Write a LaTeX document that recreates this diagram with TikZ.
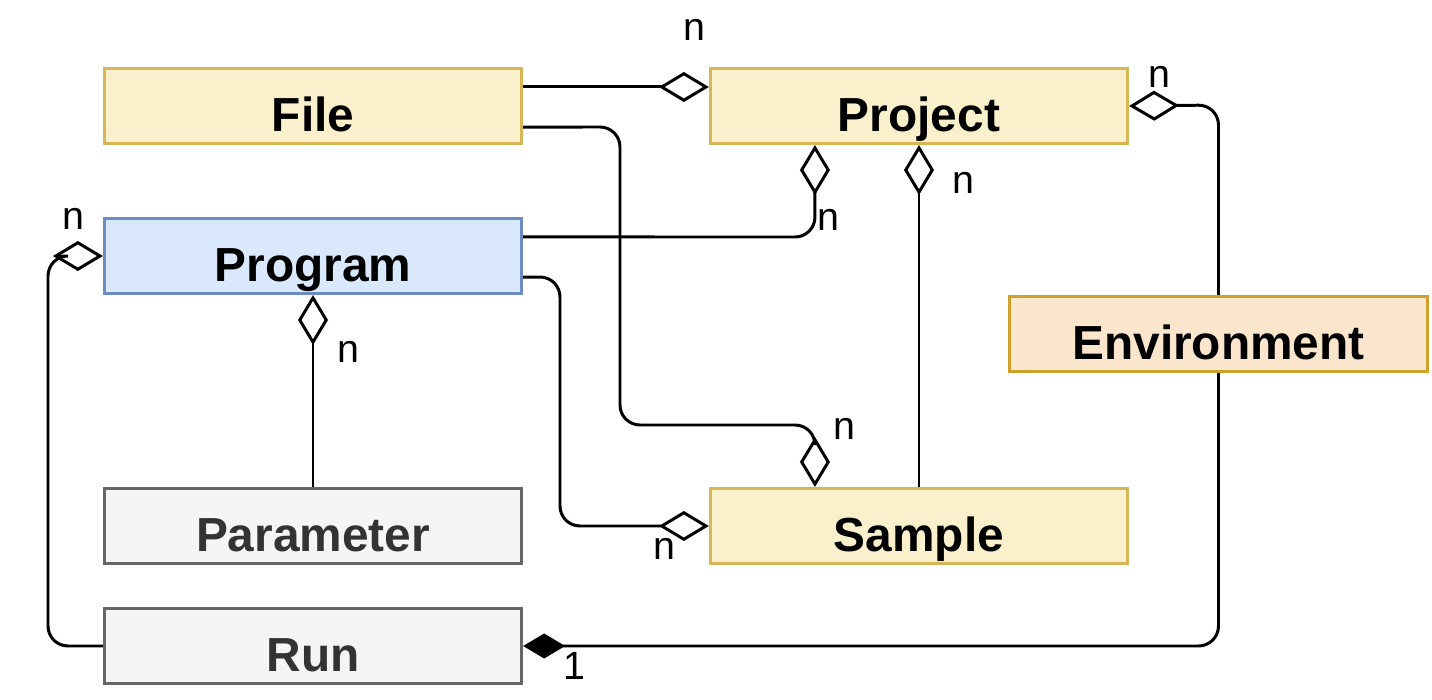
\documentclass[tikz,border=0pt]{standalone}
\usepackage{fontspec}
\setmainfont{Liberation Sans}
\usetikzlibrary{arrows.meta}
\definecolor{yelfill}{HTML}{FAF0CC}
\definecolor{yelline}{HTML}{D6B656}
\definecolor{bluefill}{HTML}{DAE8FC}
\definecolor{blueline}{HTML}{6C8EBF}
\definecolor{orfill}{HTML}{FAE5CD}
\definecolor{orline}{HTML}{CFA02C}
\definecolor{greyfill}{HTML}{F5F5F5}
\definecolor{greyline}{HTML}{666666}
\definecolor{greytext}{HTML}{333333}

\begin{document}
\begin{tikzpicture}[x=0.01cm,y=-0.01cm,
    cls/.style={draw,line width=0.85pt,minimum width=4.17cm,minimum height=0.75cm,
      text height=0.5cm,text depth=0pt,font=\fontsize{13.6}{16}\selectfont\bfseries},
    yel/.style={cls,fill=yelfill,draw=yelline},
    blu/.style={cls,fill=bluefill,draw=blueline},
    ora/.style={cls,fill=orfill,draw=orline},
    gry/.style={cls,fill=greyfill,draw=greyline,text=greytext},
    lbl/.style={inner sep=0pt,font=\fontsize{11.2}{13}\selectfont},
    agg/.style={line width=0.85pt,rounded corners=0.2cm,
      -{Diamond[open,length=0.5cm,width=0.3cm]}},
    comp/.style={line width=0.85pt,rounded corners=0.2cm,
      -{Diamond[length=0.42cm,width=0.25cm]}}]
  \useasboundingbox (0,0) rectangle (1432,700);

  \node[yel] (file) at (313,106) {File};
  \node[yel] (project) at (919,106) {Project};
  \node[blu] (program) at (313,256) {Program};
  \node[ora] (environment) at (1218.5,334) {Environment};
  \node[gry] (parameter) at (313,526) {Parameter};
  \node[yel] (sample) at (919,526) {Sample};
  \node[gry] (run) at (313,646) {Run};

  \draw[agg] ([yshift=0.19cm]file.east) -- ([yshift=0.19cm]project.west);
  \draw[agg] ([yshift=-0.21cm]file.east) -- (620,127) -- (620,425) -- (815,425)
    -- ([xshift=-1.04cm]sample.north);
  \draw[agg] ([yshift=0.19cm]program.east) -- (815,237) -- ([xshift=-1.04cm]project.south);
  \draw[agg] (sample.north) -- (project.south);
  \draw[agg] ([yshift=-0.21cm]program.east) -- (560,277) -- (560,526) -- (sample.west);
  \draw[agg] (parameter.north) -- (program.south);
  \draw[agg] (run.west) -- (48,646) -- (48,256) -- (program.west);
  \draw[agg] (environment.north) -- (1218.5,105) -- (project.east);
  \draw[comp] (environment.south) -- (1218.5,646) -- (run.east);

  \node[lbl] (nfile) at (694,30) {n};
  \node[lbl] (nenv) at (1159,77) {n};
  \node[lbl] (nprog) at (828,220) {n};
  \node[lbl] (nsamp) at (963,183) {n};
  \node[lbl] (nfsamp) at (844,429) {n};
  \node[lbl] (npsamp) at (664,549) {n};
  \node[lbl] (nparam) at (348,352) {n};
  \node[lbl] (nrun) at (73,219) {n};
  \node[lbl] (one) at (574,666) {1};
\end{tikzpicture}
\end{document}
